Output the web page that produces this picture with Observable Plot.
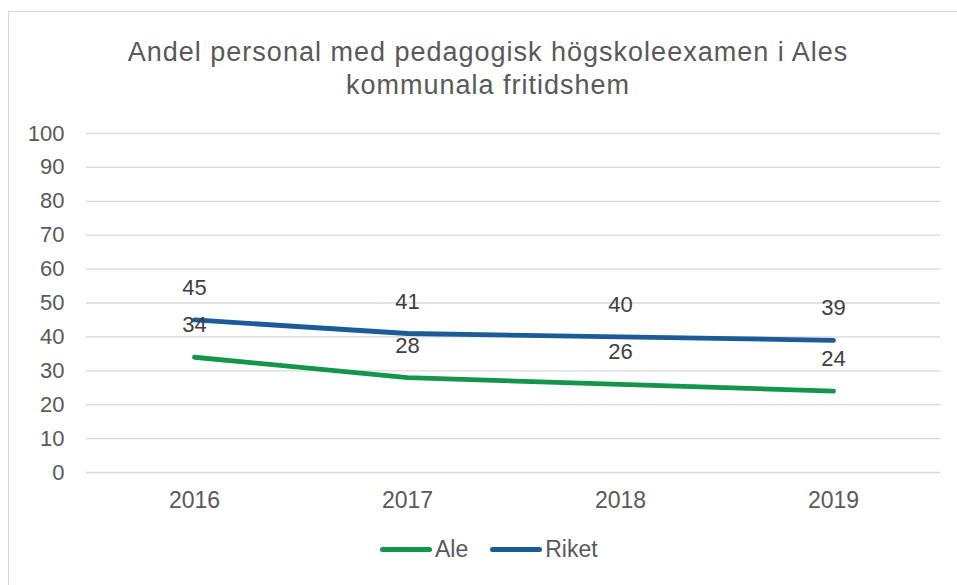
<!DOCTYPE html>
<html>
<head>
<meta charset="utf-8">
<script src="https://cdn.jsdelivr.net/npm/d3@7"></script>
<script src="https://cdn.jsdelivr.net/npm/@observablehq/plot@0.6"></script>
<style>
  html, body { margin: 0; padding: 0; background: #fff; }
  body { width: 957px; height: 585px; overflow: hidden; position: relative; font-family: "Liberation Sans", Arial, sans-serif; }
  #frame { position: absolute; left: 8px; top: 11px; width: 960px; height: 590px; border: 1.5px solid #d9d9d9; box-sizing: border-box; }
  #title { position: absolute; left: 0; width: 976px; top: 36px; text-align: center; font-size: 27px; letter-spacing: 1px; line-height: 33px; color: #595959; }
  #chart { position: absolute; left: 0; top: 110px; }
  #legend { position: absolute; top: 536px; left: 380px; font-size: 23px; color: #595959; display: flex; align-items: center; }
  .sw { display: inline-block; width: 52px; height: 5px; border-radius: 3px; margin-right: 3px; }
  .item { display: flex; align-items: center; margin-right: 22px; }
</style>
</head>
<body>
<div id="frame"></div>
<div id="title">Andel personal med pedagogisk högskoleexamen i Ales<br>kommunala fritidshem</div>
<div id="chart"></div>
<div id="legend"></div>
<script>
const years = ["2016", "2017", "2018", "2019"];
const seriesNames = ["Ale", "Riket"];
const aleValues = [34, 28, 26, 24];
const riketValues = [45, 41, 40, 39];
const yTicks = [0, 10, 20, 30, 40, 50, 60, 70, 80, 90, 100];
const colors = ["#13954a", "#1b5b98"];

const data = [];
years.forEach((y, i) => {
  data.push({year: y, series: seriesNames[0], value: aleValues[i]});
  data.push({year: y, series: seriesNames[1], value: riketValues[i]});
});

const plot = Plot.plot({
  width: 957,
  height: 420,
  marginLeft: 86,
  marginRight: 17,
  marginTop: 23,
  marginBottom: 58,
  style: { fontFamily: "Liberation Sans, Arial, sans-serif", fontSize: "22px", color: "#595959", background: "transparent", overflow: "visible" },
  x: { type: "point", domain: years, padding: 0.5, label: null, tickSize: 0, tickPadding: 19 },
  y: { domain: [0, 100], ticks: yTicks, label: null, tickSize: 0, tickPadding: 22 },
  color: { domain: seriesNames, range: colors },
  marks: [
    Plot.ruleY(yTicks, { stroke: "#d9d9d9", strokeWidth: 1.3 }),
    Plot.line(data, { x: "year", y: "value", z: "series", stroke: "series", strokeWidth: 4.8, strokeLinecap: "round" }),
    Plot.text(data, { x: "year", y: "value", text: d => String(d.value), dy: -32, fill: "#404040", fontSize: 22 })
  ]
});
plot.querySelectorAll('g[aria-label="x-axis tick label"] text').forEach(t => t.style.fontSize = "23px");
document.getElementById("chart").appendChild(plot);

const legend = document.getElementById("legend");
seriesNames.forEach((n, i) => {
  const it = document.createElement("div");
  it.className = "item";
  const sw = document.createElement("span");
  sw.className = "sw";
  sw.style.background = colors[i];
  it.appendChild(sw);
  const t = document.createElement("span");
  t.textContent = n;
  it.appendChild(t);
  legend.appendChild(it);
});
</script>
</body>
</html>
